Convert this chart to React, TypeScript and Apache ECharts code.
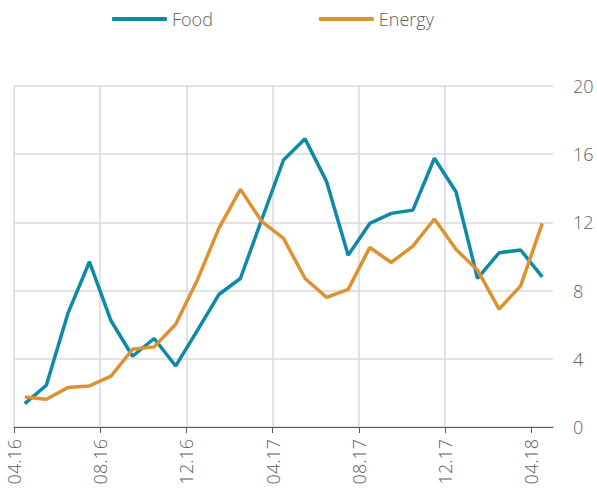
import React, { useEffect, useRef } from "react";
import * as echarts from "echarts";

const months = [
  "04.16", "05.16", "06.16", "07.16", "08.16", "09.16", "10.16", "11.16", "12.16",
  "01.17", "02.17", "03.17", "04.17", "05.17", "06.17", "07.17", "08.17", "09.17",
  "10.17", "11.17", "12.17", "01.18", "02.18", "03.18", "04.18",
];
const tickMonths = [0, 4, 8, 12, 16, 20, 24];
const yTicks = [0, 4, 8, 12, 16, 20];

const food = [
  1.37, 2.45, 6.66, 9.69, 6.23, 4.15, 5.19, 3.58, 5.65, 7.77, 8.71, 12.2, 15.66,
  16.9, 14.39, 10.08, 11.94, 12.53, 12.72, 15.76, 13.8, 8.71, 10.22, 10.38, 8.81,
];
const energy = [
  1.76, 1.63, 2.31, 2.41, 2.98, 4.56, 4.7, 6.03, 8.61, 11.65, 13.94, 12.04, 11.06,
  8.71, 7.6, 8.07, 10.53, 9.65, 10.61, 12.2, 10.42, 9.2, 6.91, 8.28, 11.94,
];

const FONT = "'Open Sans', sans-serif";
const TEXT = "#606060";

export default function App() {
  const ref = useRef<HTMLDivElement>(null);
  useEffect(() => {
    document.body.style.margin = "0";
    const chart = echarts.init(ref.current!, null, { renderer: "svg" });
    const toPts = (arr: number[]) => arr.map((v, i) => [i + 0.5, v]);
    chart.setOption({
      animation: false,
      textStyle: { fontFamily: FONT },
      legend: {
        left: 107,
        top: 5,
        icon: "roundRect",
        itemWidth: 55,
        itemHeight: 4,
        itemGap: 106,
        textStyle: { color: TEXT, fontSize: 18, fontFamily: FONT, fontWeight: 300 },
        data: ["Food", "Energy"],
      },
      grid: { left: 14, right: 44, top: 86, bottom: 68 },
      xAxis: {
        type: "value",
        min: 0,
        max: 25,
        interval: 4,
        axisLine: { show: true, lineStyle: { color: "#595959", width: 1 } },
        axisTick: { show: true, length: 6, lineStyle: { color: "#595959" }, customValues: tickMonths },
        splitLine: { show: true, showMaxLine: false, lineStyle: { color: "#d9d9d9", width: 1.5 } },
        axisLabel: {
          rotate: 90,
          margin: 12,
          color: TEXT,
          fontSize: 18,
          fontWeight: 300,
          fontFamily: FONT,
          customValues: tickMonths,
          formatter: (v: number) => months[Math.round(v)] ?? "",
        },
      },
      yAxis: {
        type: "value",
        position: "right",
        min: 0,
        max: 20,
        interval: 4,
        axisLine: { show: false },
        axisTick: { show: false },
        splitLine: { show: true, lineStyle: { color: "#d9d9d9", width: 1.5 } },
        axisLabel: {
          margin: 20,
          color: TEXT,
          fontSize: 18,
          fontWeight: 300,
          fontFamily: FONT,
          customValues: yTicks,
        },
      },
      series: [
        {
          name: "Food",
          type: "line",
          data: toPts(food),
          symbol: "none",
          lineStyle: { width: 3.5, color: "#0d8aa6" },
          itemStyle: { color: "#0d8aa6" },
        },
        {
          name: "Energy",
          type: "line",
          data: toPts(energy),
          symbol: "none",
          lineStyle: { width: 3.5, color: "#e0912f" },
          itemStyle: { color: "#e0912f" },
        },
      ],
    });
    return () => chart.dispose();
  }, []);
  return <div ref={ref} style={{ width: 597, height: 495 }} />;
}
